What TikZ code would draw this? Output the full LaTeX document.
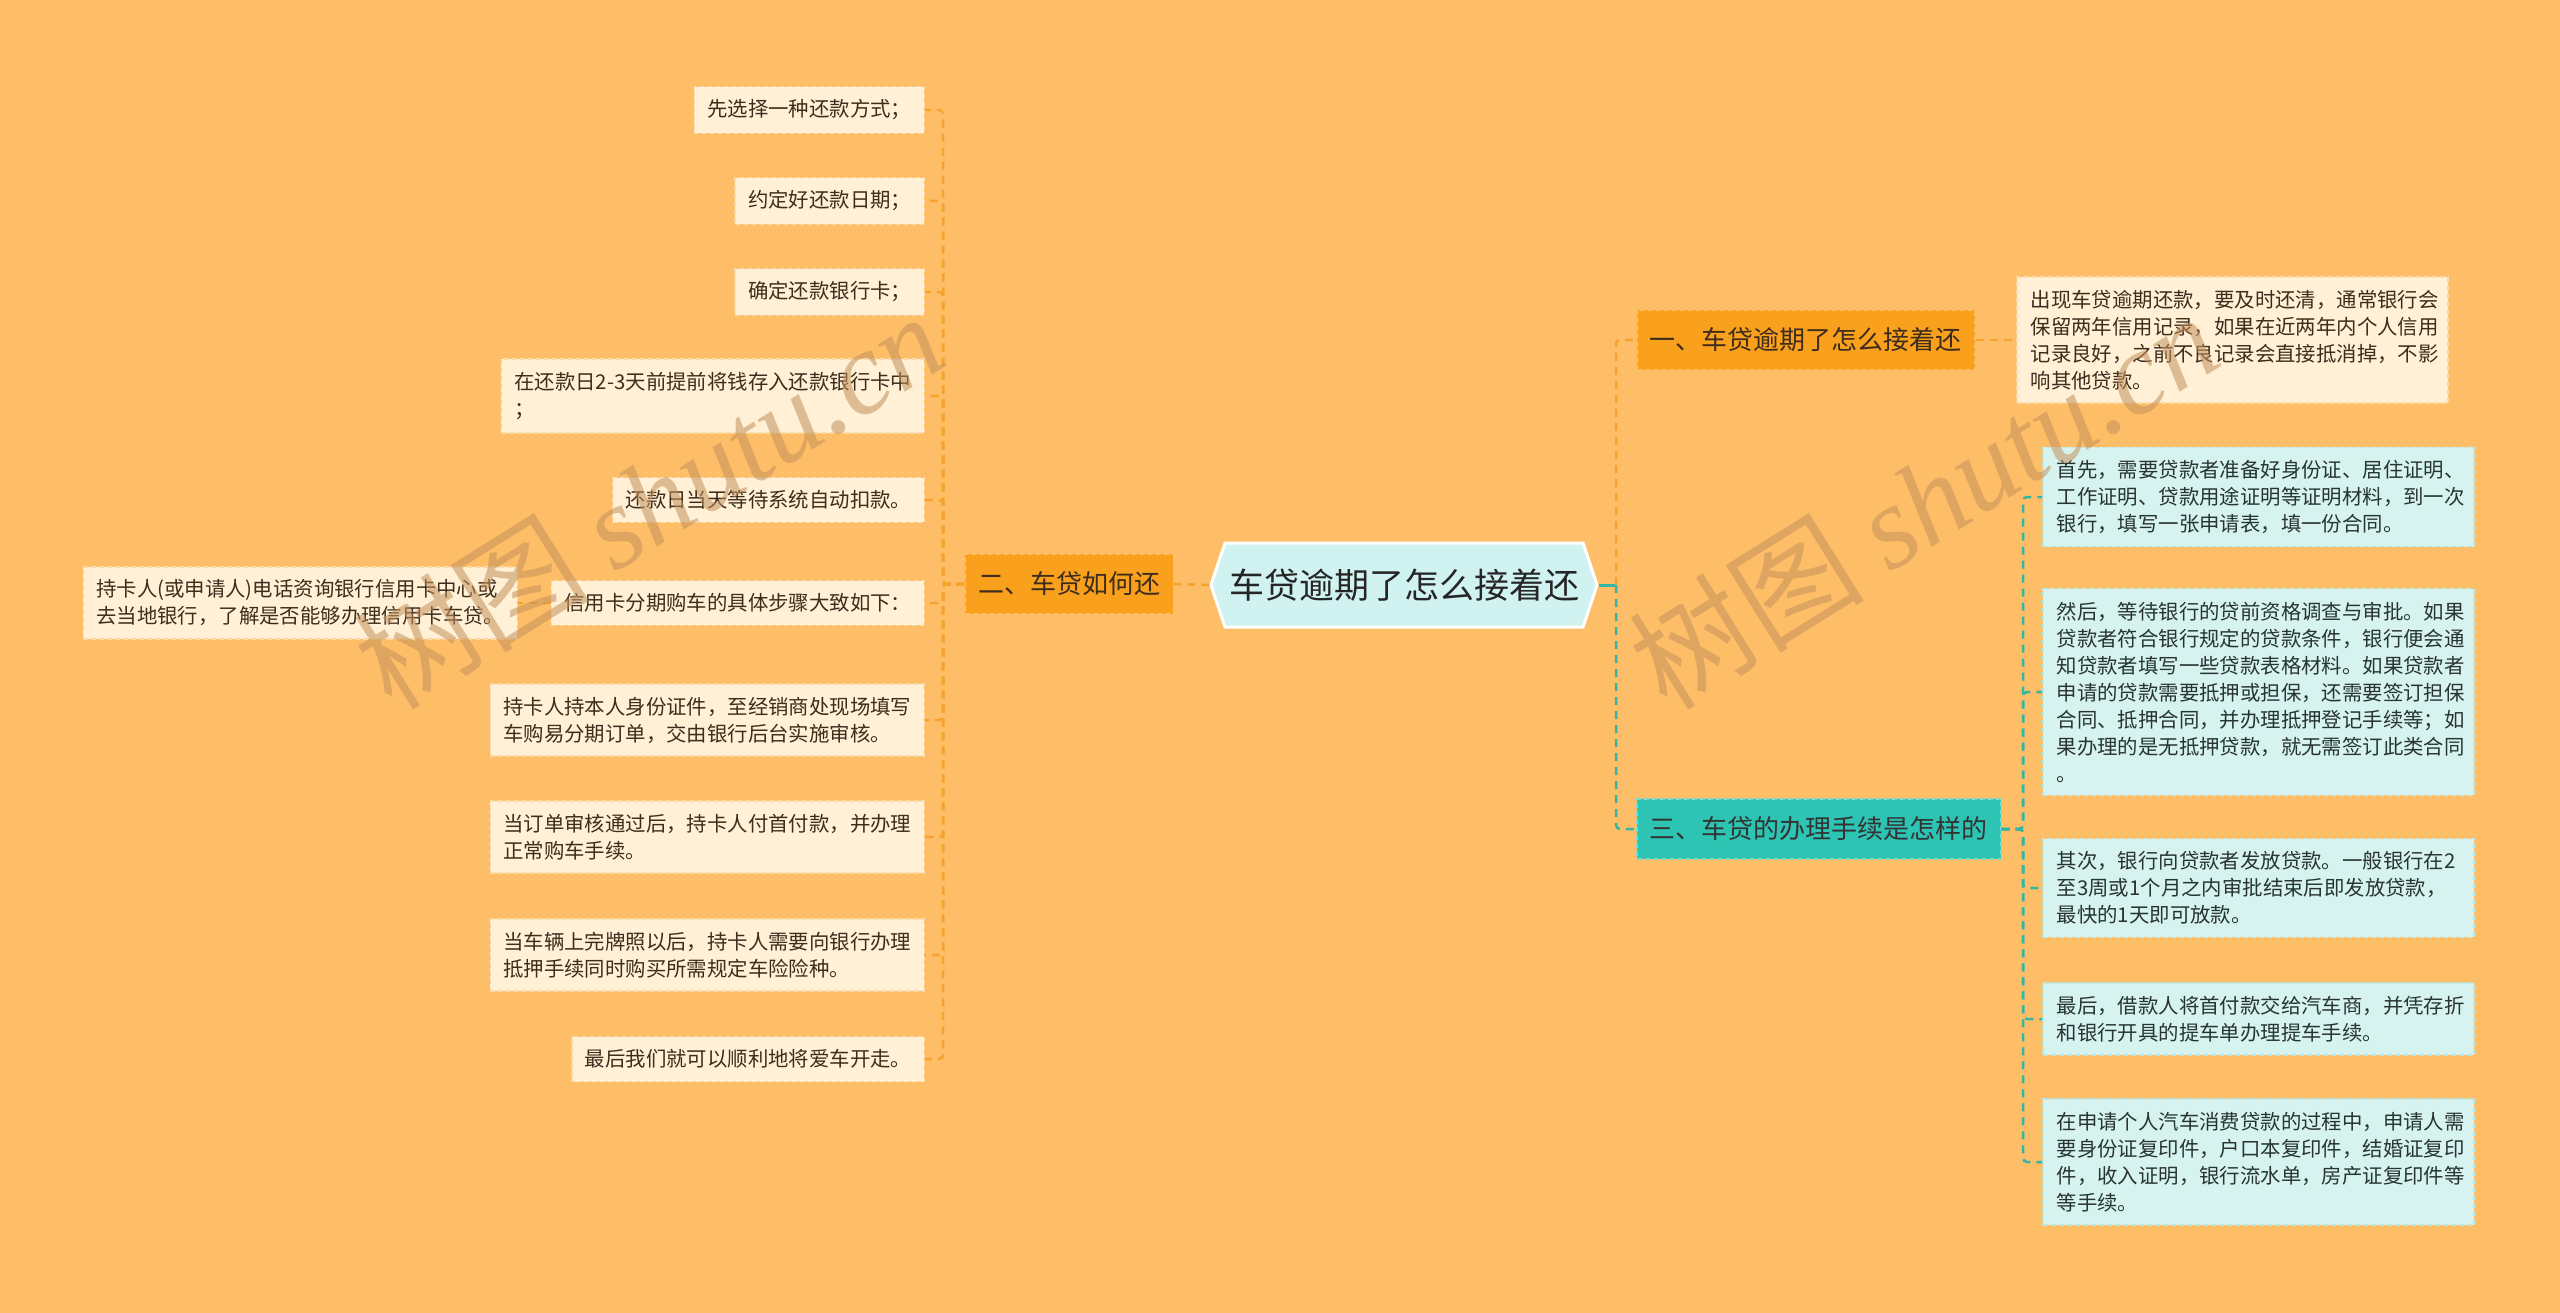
\documentclass[tikz,border=0pt]{standalone}
\usepackage{fontspec}
\setmainfont{Noto Sans CJK SC}
\newfontfamily\wmfont{Liberation Serif}
\usetikzlibrary{shapes.symbols}

\definecolor{bgc}{RGB}{254,190,104}
\definecolor{rootfill}{RGB}{208,243,242}
\definecolor{orfill}{RGB}{249,160,28}
\definecolor{orborder}{RGB}{253,190,100}
\definecolor{tlfill}{RGB}{45,196,180}
\definecolor{tlborder}{RGB}{120,218,204}
\definecolor{creamfill}{RGB}{255,240,214}
\definecolor{creamborder}{RGB}{250,218,168}
\definecolor{cyanfill}{RGB}{214,243,240}
\definecolor{cyanborder}{RGB}{188,232,228}
\definecolor{orline}{RGB}{245,163,45}
\definecolor{tlline}{RGB}{52,182,166}
\definecolor{brownink}{RGB}{62,44,28}
\definecolor{slateink}{RGB}{40,52,52}
\definecolor{wmc}{RGB}{196,146,92}

\tikzset{
  rootnode/.style={signal, signal to=east and west, signal pointer angle=143,
    fill=rootfill, draw=white, line width=3pt, inner xsep=4pt, inner ysep=0pt,
    minimum height=84pt, text=black!85, font=\fontsize{35}{40}\selectfont},
  orbranch/.style={fill=orfill, draw=orborder, dash pattern=on 5pt off 3pt, line width=1.5pt,
    inner xsep=13pt, minimum height=60pt, text=brownink, font=\fontsize{26}{30}\selectfont},
  tlbranch/.style={orbranch, fill=tlfill, draw=tlborder, text=black!80},
  leaf/.style={fill=creamfill, draw=creamborder, dash pattern=on 5pt off 3pt, line width=1.5pt,
    inner xsep=13pt, inner ysep=13pt, align=left, text=brownink,
    font=\fontsize{20.4}{27}\selectfont},
  cleaf/.style={leaf, fill=cyanfill, draw=cyanborder, text=slateink, text width=403pt,
    inner xsep=14pt},
  orlink/.style={draw=orline, line width=2.5pt, dash pattern=on 8pt off 6pt, rounded corners=4pt},
  tllink/.style={orlink, draw=tlline},
  wm/.style={text=wmc, opacity=0.55, font=\fontsize{118}{120}\selectfont}
}

\begin{document}
\begin{tikzpicture}[x=1pt,y=-1pt]
\fill[bgc] (0,0) rectangle (2560,1313);
\useasboundingbox (0,0) rectangle (2560,1313);

\node[rootnode] (root) at (1404,585) {车贷逾期了怎么接着还};

\node[orbranch, anchor=east] (b2) at (1174,584) {二、车贷如何还};
\node[orbranch, anchor=west] (b1) at (1636,340) {一、车贷逾期了怎么接着还};
\node[tlbranch, anchor=west] (b3) at (1636,829) {三、车贷的办理手续是怎样的};

\node[leaf, anchor=east] (l1) at (925,110) {先选择一种还款方式；};
\node[leaf, anchor=east] (l2) at (925,201) {约定好还款日期；};
\node[leaf, anchor=east] (l3) at (925,292) {确定还款银行卡；};
\node[leaf, anchor=east] (l4) at (925,396) {在还款日2-3天前提前将钱存入还款银行卡中\\；};
\node[leaf, anchor=east] (l5) at (925,500) {还款日当天等待系统自动扣款。};
\node[leaf, anchor=east] (l6) at (925,603) {信用卡分期购车的具体步骤大致如下：};
\node[leaf, anchor=east] (l7) at (925,720) {持卡人持本人身份证件，至经销商处现场填写\\车购易分期订单，交由银行后台实施审核。};
\node[leaf, anchor=east] (l8) at (925,837) {当订单审核通过后，持卡人付首付款，并办理\\正常购车手续。};
\node[leaf, anchor=east] (l9) at (925,955) {当车辆上完牌照以后，持卡人需要向银行办理\\抵押手续同时购买所需规定车险险种。};
\node[leaf, anchor=east] (l10) at (925,1059) {最后我们就可以顺利地将爱车开走。};

\node[leaf, anchor=east] (g1) at (518,603) {持卡人(或申请人)电话资询银行信用卡中心或\\去当地银行，了解是否能够办理信用卡车贷。};

\node[leaf, text width=403pt, inner xsep=14pt, anchor=west] (t1) at (2016,340) {出现车贷逾期还款，要及时还清，通常银行会\\保留两年信用记录，如果在近两年内个人信用\\记录良好，之前不良记录会直接抵消掉，不影\\响其他贷款。};

\node[cleaf, anchor=west] (s1) at (2042,497) {首先，需要贷款者准备好身份证、居住证明、\\工作证明、贷款用途证明等证明材料，到一次\\银行，填写一张申请表，填一份合同。};
\node[cleaf, anchor=west] (s2) at (2042,692) {然后，等待银行的贷前资格调查与审批。如果\\贷款者符合银行规定的贷款条件，银行便会通\\知贷款者填写一些贷款表格材料。如果贷款者\\申请的贷款需要抵押或担保，还需要签订担保\\合同、抵押合同，并办理抵押登记手续等；如\\果办理的是无抵押贷款，就无需签订此类合同\\。};
\node[cleaf, anchor=west] (s3) at (2042,888) {其次，银行向贷款者发放贷款。一般银行在2\\至3周或1个月之内审批结束后即发放贷款，\\最快的1天即可放款。};
\node[cleaf, anchor=west] (s4) at (2042,1019) {最后，借款人将首付款交给汽车商，并凭存折\\和银行开具的提车单办理提车手续。};
\node[cleaf, anchor=west] (s5) at (2042,1162) {在申请个人汽车消费贷款的过程中，申请人需\\要身份证复印件，户口本复印件，结婚证复印\\件，收入证明，银行流水单，房产证复印件等\\等手续。};

\coordinate (lj) at (943,584);
\coordinate (rj) at (1616,585);
\coordinate (tj) at (2023,829);

\draw[orlink] (root.west) -- (b2.east);
\foreach \c in {l1,l2,l3,l4,l5,l6,l7,l8,l9,l10}
  \draw[orlink] (b2.west) -- (lj) |- (\c.east);
\draw[orlink] (l6.west) -- (g1.east);

\draw[tlline, line width=3pt] (root.east) -- (rj);
\draw[orlink] (rj) |- (b1.west);
\draw[tllink] (rj) |- (b3.west);
\draw[orlink] (b1.east) -- (t1.west);
\foreach \c in {s1,s2,s3,s4,s5}
  \draw[tllink] (b3.east) -- (tj) |- (\c.west);

\node[wm, rotate=32] (wm1) at (648,500) {树图 {\wmfont\itshape shutu.cn}};
\node[wm, rotate=32] (wm2) at (1923,500) {树图 {\wmfont\itshape shutu.cn}};
\end{tikzpicture}
\end{document}
